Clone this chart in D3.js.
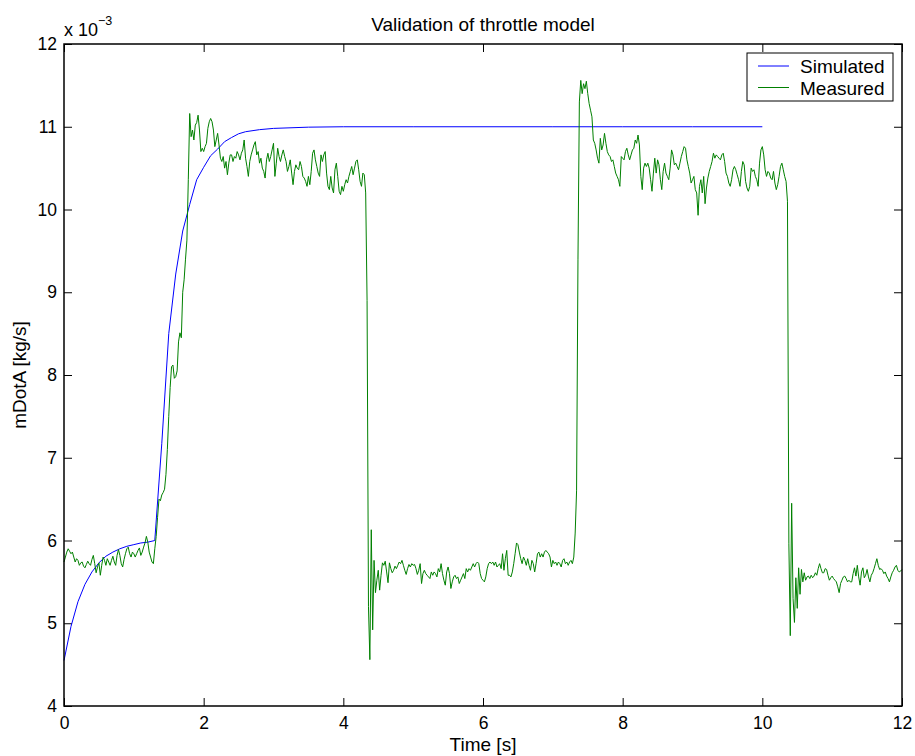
<!DOCTYPE html>
<html>
<head>
<meta charset="utf-8">
<script src="https://cdn.jsdelivr.net/npm/d3@7"></script>
<style>
  body { margin: 0; background: #fff; }
  text { font-family: "Liberation Sans", Arial, Helvetica, sans-serif; fill: #000; }
</style>
</head>
<body>
<script>
'use strict';

// tick values
const xTicks = [0, 2, 4, 6, 8, 10, 12];
const yTicks = [4, 5, 6, 7, 8, 9, 10, 11, 12];

// simulated throttle mass flow (x 1e-3 kg/s)
const simTime = [0, 0.1, 0.2, 0.3, 0.4, 0.5, 0.6, 0.7, 0.8, 0.9, 1.0, 1.1, 1.2, 1.3,
  1.4, 1.5, 1.6, 1.7, 1.8, 1.9, 2.0, 2.1, 2.2, 2.3, 2.4, 2.5, 2.6, 2.8, 3.0, 3.5,
  4, 5, 6, 7, 8, 9, 10];
const simValue = [4.55, 4.96, 5.26, 5.47, 5.62, 5.73, 5.81, 5.86, 5.90, 5.93, 5.95, 5.97, 5.98, 6.00,
  7.17, 8.50, 9.22, 9.74, 10.06, 10.36, 10.51, 10.65, 10.73, 10.82, 10.87, 10.915, 10.94, 10.965, 10.98, 10.995,
  11.0, 11.0, 11.0, 11.0, 11.0, 11.0, 11.0];

// measured mass flow, one sample every 0.02 s from t = 0 to 12 s
const sampleStep = 0.02;
const measured = [
  // 0 s
  5.74,5.80,5.86,5.90,5.87,5.84,5.86,5.80,5.74,5.78,
  5.76,5.70,5.73,5.74,5.69,5.67,5.71,5.75,5.72,5.70,
  5.77,5.82,5.72,5.61,5.68,5.73,5.58,5.70,5.80,5.76,
  5.70,5.78,5.74,5.70,5.76,5.81,5.74,5.70,5.82,5.89,
  5.82,5.72,5.68,5.77,5.84,5.90,5.92,5.84,5.80,5.86,
  // 1 s
  5.84,5.80,5.84,5.88,5.91,5.82,5.86,5.92,5.97,6.05,
  5.98,5.86,5.80,5.74,5.72,5.90,6.05,6.28,6.50,6.48,
  6.55,6.58,6.62,6.80,7.10,7.50,7.85,8.10,8.12,7.96,
  7.98,8.05,8.40,8.51,8.45,9.00,9.15,9.40,9.63,10.36,
  11.16,10.88,10.96,10.84,11.02,11.05,11.14,10.96,10.70,10.74,
  // 2 s
  10.70,10.76,10.80,10.98,11.06,11.10,11.06,10.96,10.76,10.84,
  10.92,10.78,10.62,10.58,10.64,10.50,10.58,10.42,10.56,10.66,
  10.66,10.58,10.64,10.62,10.70,10.66,10.60,10.68,10.72,10.84,
  10.62,10.52,10.40,10.58,10.66,10.72,10.78,10.82,10.66,10.70,
  10.56,10.62,10.50,10.46,10.38,10.60,10.68,10.58,10.64,10.72,
  // 3 s
  10.80,10.40,10.56,10.74,10.64,10.58,10.66,10.72,10.64,10.58,
  10.46,10.52,10.60,10.44,10.30,10.46,10.54,10.50,10.48,10.58,
  10.52,10.40,10.38,10.34,10.28,10.40,10.30,10.46,10.68,10.72,
  10.60,10.52,10.44,10.40,10.66,10.58,10.66,10.70,10.44,10.28,
  10.24,10.40,10.26,10.20,10.48,10.56,10.40,10.22,10.18,10.28,
  // 4 s
  10.22,10.30,10.36,10.32,10.40,10.46,10.52,10.42,10.50,10.58,
  10.60,10.48,10.34,10.28,10.44,10.42,10.20,8.90,5.20,4.56,
  6.13,4.92,5.76,5.37,5.52,5.64,5.40,5.58,5.73,5.70,
  5.75,5.62,5.49,5.73,5.66,5.61,5.64,5.69,5.66,5.70,
  5.74,5.72,5.76,5.70,5.64,5.59,5.66,5.71,5.68,5.72,
  // 5 s
  5.70,5.71,5.66,5.59,5.64,5.72,5.48,5.60,5.64,5.60,
  5.58,5.56,5.54,5.62,5.58,5.62,5.60,5.56,5.66,5.62,
  5.72,5.60,5.52,5.46,5.62,5.68,5.60,5.42,5.50,5.56,
  5.58,5.54,5.56,5.48,5.52,5.56,5.60,5.54,5.66,5.62,
  5.66,5.64,5.68,5.72,5.68,5.72,5.74,5.72,5.60,5.54,
  // 6 s
  5.52,5.50,5.56,5.66,5.72,5.74,5.72,5.74,5.70,5.74,
  5.68,5.70,5.72,5.66,5.84,5.64,5.78,5.88,5.58,5.58,
  5.56,5.62,5.72,5.84,5.97,5.95,5.86,5.78,5.72,5.80,
  5.76,5.70,5.78,5.70,5.64,5.76,5.72,5.62,5.72,5.84,
  5.86,5.80,5.84,5.80,5.86,5.88,5.86,5.84,5.80,5.68,
  // 7 s
  5.76,5.72,5.74,5.70,5.74,5.72,5.68,5.76,5.78,5.72,
  5.74,5.70,5.74,5.76,5.72,5.80,6.09,6.60,9.40,11.30,
  11.56,11.40,11.52,11.46,11.55,11.40,11.28,11.20,11.12,10.84,
  10.80,10.72,10.62,10.56,10.86,10.72,10.78,10.92,10.80,10.70,
  10.66,10.64,10.58,10.60,10.52,10.44,10.40,10.36,10.28,10.64,
  // 8 s
  10.62,10.60,10.70,10.74,10.66,10.60,10.66,10.72,10.74,10.84,
  10.80,10.90,10.78,10.40,10.24,10.50,10.56,10.52,10.56,10.50,
  10.36,10.22,10.44,10.62,10.44,10.60,10.54,10.36,10.24,10.46,
  10.56,10.44,10.40,10.36,10.50,10.72,10.66,10.54,10.56,10.52,
  10.48,10.56,10.64,10.70,10.76,10.74,10.60,10.52,10.44,10.32,
  // 9 s
  10.36,10.40,10.24,10.20,9.93,10.28,10.36,10.20,10.40,10.07,
  10.26,10.38,10.46,10.52,10.58,10.68,10.62,10.66,10.64,10.62,
  10.60,10.66,10.68,10.58,10.44,10.40,10.32,10.28,10.36,10.48,
  10.52,10.48,10.42,10.36,10.28,10.46,10.58,10.54,10.34,10.26,
  10.22,10.28,10.50,10.46,10.48,10.40,10.36,10.28,10.56,10.72,
  // 10 s
  10.76,10.66,10.48,10.40,10.46,10.44,10.38,10.36,10.46,10.32,
  10.24,10.30,10.40,10.52,10.56,10.48,10.40,10.34,10.10,5.96,
  4.85,6.45,5.30,5.01,5.55,5.18,5.67,5.35,5.65,5.50,
  5.61,5.52,5.56,5.57,5.54,5.58,5.55,5.57,5.61,5.58,
  5.66,5.72,5.66,5.61,5.61,5.66,5.65,5.58,5.52,5.55,
  // 11 s
  5.57,5.54,5.52,5.50,5.44,5.37,5.48,5.52,5.56,5.57,
  5.54,5.50,5.52,5.50,5.50,5.60,5.67,5.57,5.70,5.56,
  5.46,5.62,5.67,5.55,5.58,5.65,5.56,5.50,5.58,5.61,
  5.66,5.72,5.78,5.70,5.65,5.66,5.64,5.60,5.62,5.57,
  5.54,5.50,5.56,5.61,5.64,5.68,5.70,5.64,5.62,5.63,
  // 12 s
  5.65
];

const width = 915, height = 756;
const margin = { left: 64, right: 13, top: 44, bottom: 50 };

let svg = d3.select('body')
  .append('svg')
  .attr('width', width)
  .attr('height', height);

svg.append('rect')
  .attr('width', width)
  .attr('height', height)
  .attr('fill', '#fff');

let xScale = d3.scaleLinear()
  .domain([0, 12])
  .range([margin.left, width - margin.right]);

let yScale = d3.scaleLinear()
  .domain([4, 12])
  .range([height - margin.bottom, margin.top]);

// axes with inward ticks on all four sides
let bottomAxis = d3.axisBottom(xScale).tickValues(xTicks)
  .tickSizeInner(-8).tickSizeOuter(0).tickPadding(11).tickFormat(d3.format('d'));
let topAxis = d3.axisTop(xScale).tickValues(xTicks)
  .tickSizeInner(-8).tickSizeOuter(0).tickFormat('');
let leftAxis = d3.axisLeft(yScale).tickValues(yTicks)
  .tickSizeInner(-8).tickSizeOuter(0).tickPadding(7).tickFormat(d3.format('d'));
let rightAxis = d3.axisRight(yScale).tickValues(yTicks)
  .tickSizeInner(-8).tickSizeOuter(0).tickFormat('');

function styleAxis(g) {
  g.select('.domain').remove();
  g.selectAll('line').attr('stroke', '#000').attr('stroke-width', 1);
  g.selectAll('text').style('font-size', '17.5px').attr('fill', '#000');
}

svg.append('g').attr('transform', `translate(0,${height - margin.bottom})`).call(bottomAxis).call(styleAxis);
svg.append('g').attr('transform', `translate(0,${margin.top})`).call(topAxis).call(styleAxis);
svg.append('g').attr('transform', `translate(${margin.left},0)`).call(leftAxis).call(styleAxis);
svg.append('g').attr('transform', `translate(${width - margin.right},0)`).call(rightAxis).call(styleAxis);

// lines
let simLine = d3.line()
  .x((d, i) => xScale(simTime[i]))
  .y(d => yScale(d));

let measLine = d3.line()
  .x((d, i) => xScale(i * sampleStep))
  .y(d => yScale(d));

svg.append('path')
  .datum(simValue)
  .attr('d', simLine)
  .attr('fill', 'none')
  .attr('stroke', '#0000ff')
  .attr('stroke-width', 1);

svg.append('path')
  .datum(measured)
  .attr('d', measLine)
  .attr('fill', 'none')
  .attr('stroke', '#008000')
  .attr('stroke-width', 1);

// plot frame
svg.append('rect')
  .attr('x', margin.left)
  .attr('y', margin.top)
  .attr('width', width - margin.left - margin.right)
  .attr('height', height - margin.top - margin.bottom)
  .attr('fill', 'none')
  .attr('stroke', '#000')
  .attr('stroke-width', 1.5);

// exponent label
let expo = svg.append('text')
  .attr('x', margin.left)
  .attr('y', 36)
  .style('font-size', '18px');
expo.append('tspan').text('x 10');
expo.append('tspan').attr('dy', -11).style('font-size', '12.5px').text('\u22123');

// title and axis labels
svg.append('text')
  .attr('x', (margin.left + width - margin.right) / 2)
  .attr('y', 31)
  .attr('text-anchor', 'middle')
  .style('font-size', '19px')
  .text('Validation of throttle model');

svg.append('text')
  .attr('x', (margin.left + width - margin.right) / 2)
  .attr('y', 751)
  .attr('text-anchor', 'middle')
  .style('font-size', '19px')
  .text('Time [s]');

svg.append('text')
  .attr('transform', `translate(26, ${(margin.top + height - margin.bottom) / 2}) rotate(-90)`)
  .attr('text-anchor', 'middle')
  .style('font-size', '19px')
  .text('mDotA [kg/s]');

// legend
const legendItems = [
  { name: 'Simulated', color: '#0000ff' },
  { name: 'Measured', color: '#008000' }
];

let legend = svg.append('g').attr('transform', 'translate(747,53)');
legend.append('rect')
  .attr('width', 146)
  .attr('height', 48)
  .attr('fill', '#fff')
  .attr('stroke', '#000')
  .attr('stroke-width', 1);

let rows = legend.selectAll('.legend-row')
  .data(legendItems)
  .enter()
  .append('g')
  .attr('class', 'legend-row')
  .attr('transform', (d, i) => `translate(0, ${13 + i * 21.5})`);

rows.append('line')
  .attr('x1', 11).attr('x2', 42)
  .attr('stroke', d => d.color)
  .attr('stroke-width', 1);

rows.append('text')
  .attr('x', 53)
  .attr('y', 7)
  .style('font-size', '19px')
  .text(d => d.name);
</script>
</body>
</html>
